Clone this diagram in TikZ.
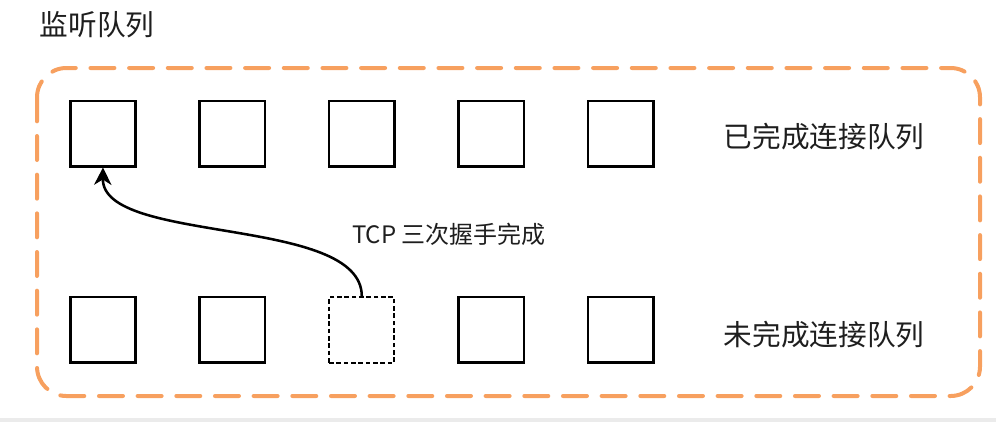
\documentclass[tikz,border=0pt]{standalone}
\usepackage{fontspec}
\setmainfont{Noto Sans CJK SC}
\usetikzlibrary{arrows.meta}
\definecolor{queueorange}{RGB}{247,160,95}
\definecolor{inktext}{RGB}{30,30,30}
\tikzset{
	slot/.style={draw=black, line width=2pt, minimum size=49pt, inner sep=0pt},
	halfslot/.style={slot, line width=1.5pt, dash pattern=on 3.5pt off 2pt},
	qlabel/.style={text=inktext, font=\fontsize{21.5}{25}\selectfont},
}
\begin{document}
\begin{tikzpicture}[x=0.75pt, y=-0.75pt]
	\useasboundingbox (0,0) rectangle (996,422);
	\fill[black!8] (0,418) rectangle (996,422);
	% listen queue frame
	\draw[queueorange, line width=3pt, line cap=round, dash pattern=on 18pt off 11pt,
		rounded corners=22pt] (37,68) rectangle (980,396);
	\node[qlabel] (title) at (97,25) {监听队列};
	% accept queue and syn queue
	\foreach \i in {1,...,5}{
		\node[slot] (done\i) at ({103+129.4*(\i-1)},133.5) {};
		\ifnum\i=3
			\node[halfslot] (syn\i) at ({103+129.4*(\i-1)},330) {};
		\else
			\node[slot] (syn\i) at ({103+129.4*(\i-1)},329.5) {};
		\fi
	}
	\node[qlabel] (acceptq) at (824,137) {已完成连接队列};
	\node[qlabel] (synq) at (824,335) {未完成连接队列};
	\node[text=inktext, font=\fontsize{18}{22}\selectfont] (handshake) at (449,234) {TCP 三次握手完成};
	\draw[line width=1.9pt, -{Stealth[length=13pt, width=13pt, inset=4pt]}]
		(syn3.north) .. controls (362,215) and (102,245) .. (done1.south);
\end{tikzpicture}
\end{document}
